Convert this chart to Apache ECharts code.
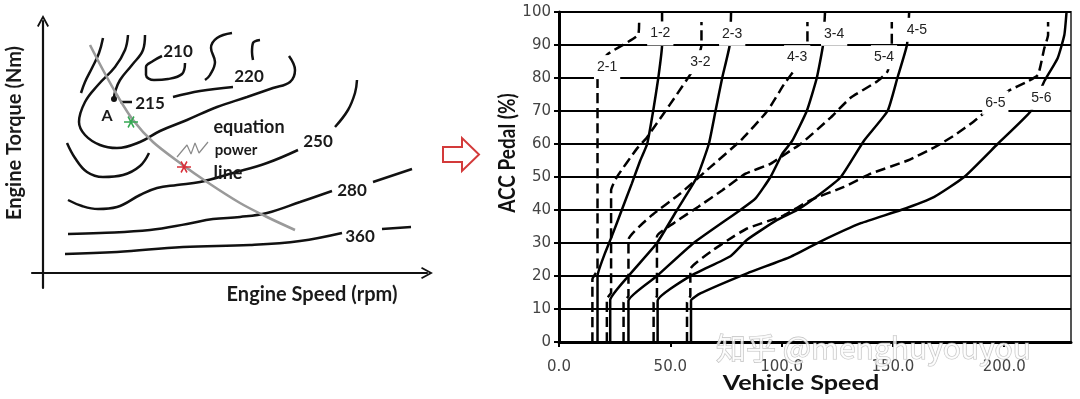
<!DOCTYPE html>
<html>
<head>
<meta charset="utf-8">
<title>Engine map and shift schedule</title>
<script src="https://cdn.jsdelivr.net/npm/echarts@6/dist/echarts.min.js"></script>
<style>
  html, body { margin: 0; padding: 0; background: #fff; }
  #chart { width: 1080px; height: 399px; }
</style>
</head>
<body>
<div id="chart"></div>
<script>
// ---------- left: engine map (relative speed, relative torque) ----------
var c1 = [[60,235],[56,220],[49,205],[42,191],[38,180]];
var c220 = [[85,238],[82,223],[72,206],[55,188],[42,171],[36,151],[42,138],[57,128],[74,125],[97,131],[117,142],[144,153],[174,166],[204,176],[230,185],[247,191],[252,203],[246,217]];
var c215 = [[102,238],[100,223],[89,208],[77,193],[72,181],[71,174]];
var c215dash = [[77,171],[89,171]];
var c215b = [[130,176],[157,182],[190,186]];
var cS = [[189,240],[174,235],[168,225],[172,211],[167,198],[162,193]];
var cHook = [[217,233],[210,230],[209,221],[210,213]];
var c210 = [[142,210],[139,199],[125,194],[111,193],[103,198],[103,206],[110,212],[119,217]];
var cU = [[24,130],[32,115],[44,101],[60,96],[80,98],[97,107],[106,120]];
var cArc = [[292,146],[305,163],[312,180],[314,193]];
var c250 = [[25,73],[39,67],[55,64],[74,66],[97,78],[114,85],[134,88],[157,91],[190,100],[224,110],[255,123]];
var c280 = [[25,39],[57,40],[107,43],[144,49],[170,54],[197,56],[224,60],[257,71],[289,82]];
var c280b = [[330,91],[369,104]];
var c360 = [[22,19],[74,21],[140,26],[207,28],[257,32],[299,40]];
var c360b = [[339,44],[368,46]];
var powerLine = [[47,228],[60,203],[74,178],[90,153],[110,131],[137,110],[164,91],[197,70],[224,56],[252,43]];
var squiggle = [[134,116],[144,128],[148,119],[152,130],[156,120],[165,131]];
var pointA = [[71,174]];
var greenMark = [[88,151]];
var redMark = [[141,106]];
var mapLabels = ['A','215','210','220','equation','power','line','250','280','360'];
var mapLabelAt = [[64,157],[107,169],[135,221],[206,196],[206,146],[193,123],[185,100],[275,131],[309,82],[317,36]];
var mapLabelSize = [16,17,17,17,18,15,18,17,17,17];

// ---------- right: shift schedule [vehicle speed, ACC pedal %] ----------
var up12 = [[17.3,0],[17.3,20],[20.7,27],[23.7,32],[28.2,40],[32.7,48],[36.5,55],[39.6,60],[42.3,70],[44.6,80],[46.3,90],[46.3,100]];
var up23 = [[23,0],[23,12.7],[31.2,20],[44,30],[53,40],[62,50],[67.3,60],[70.3,70],[73.3,80],[76.7,90],[77.3,100]];
var up34 = [[31.2,0],[31.2,12.5],[44,20],[60.5,30],[81.5,40],[88.3,43.5],[95,50],[100.3,57],[104.8,61],[111.3,70],[115.8,80],[118.6,90],[119.5,100]];
var up45 = [[44.3,0],[44.3,12.5],[59,20],[77,26],[84.5,31],[98,37],[107,40],[117.6,45],[126.6,50],[137,61],[147.6,70],[152,80],[156.3,90],[157.3,100]];
var up56 = [[59.3,0],[59.3,12.5],[63.5,14.7],[84.5,20.8],[104,25.8],[117.6,30.5],[135.6,36],[153.6,40],[168.6,44],[182,50],[197,60],[212,70],[218,79],[224,86],[227,93],[228,100]];
var down21 = [[15,0],[15,19],[17.3,22],[17.3,81],[21.5,87],[35.5,93],[36,97]];
var down32 = [[21.5,0],[21.5,13],[23.4,15],[23.4,46],[26,50],[35,58.6],[39.5,62],[59.8,82],[64,90],[64,97]];
var down43 = [[29,0],[29,12],[31.2,14],[31.2,31],[41,38],[54.5,45],[68,53],[81.5,61],[93.6,70],[101,78],[106.3,83],[111.6,90],[111.6,97]];
var down54 = [[42.5,0],[42.5,12],[44,14],[44,32],[51.5,36],[62.6,41],[73.4,46],[83.8,51],[95,54],[104,58],[108.6,60],[122,68],[131,74],[143,79],[147.6,82],[149.5,90],[149.5,97]];
var down65 = [[57.5,0],[57.5,12],[59,14],[59,22],[69.5,28],[78.5,32],[84.5,34.4],[101,38.4],[113,43],[128,47],[140,51],[156.6,55],[168.6,59],[177.6,62.6],[186.6,67],[195.5,72],[201.7,76],[210.7,79],[215.2,81],[218,89],[219.7,93],[219.7,97]];
var shiftNames = ['1-2','2-3','3-4','4-5','2-1','3-2','4-3','5-4','6-5','5-6'];
var shiftLabelAt = [[45.5,93.5],[77.8,93.4],[123.6,93.4],[160.8,94.6],[21.6,83.3],[63.5,84.8],[107,86.3],[146,86.3],[196,72.5],[216.7,74]];
var speedTicks = [0,50,100,150,200];

var chevron = 'path://M0,11 L6,0 L12,11 L10.4,11.9 L6,3.6 L1.6,11.9 Z';
var starMark = 'path://M0,5.2 L14,5.2 L14,6.8 L0,6.8 Z M3.4,1 L4.7,0 L10.6,11 L9.3,12 Z M9.3,0 L10.6,1 L4.7,12 L3.4,11 Z';

function contour(data, smooth) {
  return {
    type: 'line', xAxisIndex: 0, yAxisIndex: 0, data: data,
    symbol: 'none', smooth: smooth === undefined ? 0.4 : smooth,
    lineStyle: { color: '#111', width: 2.5 }, silent: true
  };
}

function shiftLine(data, dashed) {
  return {
    type: 'line', xAxisIndex: 1, yAxisIndex: 1, data: data,
    symbol: 'none', z: 3, silent: true, smooth: 0.15,
    lineStyle: { color: '#000', width: 2.5, type: dashed ? [10, 5] : 'solid' }
  };
}

var chart = echarts.init(document.getElementById('chart'), null, { renderer: 'canvas' });

var series = [
  contour(c1), contour(c220), contour(c215), contour(c215dash, 0), contour(c215b),
  contour(cS), contour(cHook), contour(c210), contour(cU), contour(cArc),
  contour(c250), contour(c280), contour(c280b, 0), contour(c360), contour(c360b, 0),
  {
    type: 'line', xAxisIndex: 0, yAxisIndex: 0, data: powerLine, symbol: 'none', smooth: 0.3,
    lineStyle: { color: '#9a9a9a', width: 2.6 }, z: 3, silent: true
  },
  {
    type: 'line', xAxisIndex: 0, yAxisIndex: 0, data: squiggle, symbol: 'none',
    lineStyle: { color: '#8a8a8a', width: 1.2 }, z: 3, silent: true
  },
  {
    type: 'scatter', xAxisIndex: 0, yAxisIndex: 0, data: pointA, symbol: 'circle', symbolSize: 6,
    itemStyle: { color: '#111', opacity: 1 }, z: 4, silent: true
  },
  {
    type: 'scatter', xAxisIndex: 0, yAxisIndex: 0, data: greenMark, symbol: starMark, symbolSize: [14, 12],
    itemStyle: { color: '#35a853', opacity: 1 }, z: 5, silent: true
  },
  {
    type: 'scatter', xAxisIndex: 0, yAxisIndex: 0, data: redMark, symbol: starMark, symbolSize: [14, 12],
    itemStyle: { color: '#d9303a', opacity: 1 }, z: 5, silent: true
  },
  {
    type: 'scatter', xAxisIndex: 0, yAxisIndex: 0, symbolSize: 0, z: 6, silent: true,
    itemStyle: { opacity: 1 },
    data: mapLabelAt.map(function (p, i) {
      return { value: p, name: mapLabels[i], label: { fontSize: mapLabelSize[i] } };
    }),
    label: {
      show: true, position: 'inside', formatter: '{b}', color: '#1a1a1a', opacity: 1,
      fontFamily: 'Lato', fontWeight: 'bold', textBorderWidth: 0
    }
  },
  shiftLine(up12, false), shiftLine(up23, false), shiftLine(up34, false),
  shiftLine(up45, false), shiftLine(up56, false),
  shiftLine(down21, true), shiftLine(down32, true), shiftLine(down43, true),
  shiftLine(down54, true), shiftLine(down65, true),
  {
    type: 'scatter', xAxisIndex: 1, yAxisIndex: 1, symbolSize: 0, z: 10, silent: true,
    itemStyle: { opacity: 1 },
    data: shiftLabelAt.map(function (p, i) { return { value: p, name: shiftNames[i] }; }),
    label: {
      show: true, position: 'inside', formatter: '{b}', opacity: 1,
      fontFamily: 'Liberation Sans', fontSize: 14, color: '#222', textBorderWidth: 0,
      backgroundColor: '#fff', padding: [5, 3]
    }
  }
];

var option = {
  animation: false,
  backgroundColor: '#fff',
  grid: [
    { left: 32, top: 21, width: 395, height: 267 },
    { left: 559, top: 12, width: 512, height: 330, show: true, borderColor: '#555', borderWidth: 2 }
  ],
  xAxis: [
    {
      gridIndex: 0, type: 'value', min: -11, max: 384,
      axisLine: { onZero: true, symbol: ['none', chevron], symbolSize: [12, 12],
        lineStyle: { color: '#111', width: 2.2 } },
      axisTick: { show: false }, axisLabel: { show: false }, splitLine: { show: false }
    },
    {
      gridIndex: 1, type: 'value', min: 0, max: 230, interval: 50,
      axisLine: { onZero: false, lineStyle: { color: '#000', width: 3 } },
      axisTick: { show: true, inside: false, length: 5, customValues: speedTicks, lineStyle: { color: '#000', width: 2 } },
      axisLabel: { customValues: speedTicks, margin: 18, fontFamily: 'DejaVu Sans', fontSize: 15, color: '#444',
        formatter: function (v) { return v.toFixed(1); } },
      splitLine: { show: false }
    }
  ],
  yAxis: [
    {
      gridIndex: 0, type: 'value', min: -15, max: 252,
      axisLine: { onZero: true, symbol: ['none', chevron], symbolSize: [12, 12],
        lineStyle: { color: '#111', width: 2.2 } },
      axisTick: { show: false }, axisLabel: { show: false }, splitLine: { show: false }
    },
    {
      gridIndex: 1, type: 'value', min: 0, max: 100, interval: 10,
      axisLine: { onZero: false, lineStyle: { color: '#000', width: 3 } },
      axisTick: { show: true, inside: false, length: 5, lineStyle: { color: '#000', width: 2 } },
      axisLabel: { margin: 8, fontFamily: 'DejaVu Sans', fontSize: 15, color: '#444' },
      splitLine: { show: true, lineStyle: { color: '#000', width: 2 } }
    }
  ],
  graphic: [
    {
      type: 'text', x: 312, y: 295, z: 20,
      style: { text: 'Engine Speed (rpm)', font: 'bold 20px Lato', fill: '#1a1a1a', align: 'center', verticalAlign: 'middle' }
    },
    {
      type: 'text', x: 15, y: 133, rotation: Math.PI / 2, z: 20,
      style: { text: 'Engine Torque (Nm)', font: 'bold 20px Lato', fill: '#1a1a1a', align: 'center', verticalAlign: 'middle' }
    },
    {
      type: 'text', x: 801, y: 383, scaleX: 1.2, z: 20,
      style: { text: 'Vehicle Speed', font: 'bold 21px Lato', fill: '#111', align: 'center', verticalAlign: 'middle' }
    },
    {
      type: 'text', x: 508, y: 153, rotation: Math.PI / 2, scaleY: 1.15, z: 20,
      style: { text: 'ACC Pedal (%)', font: 'bold 19px Lato', fill: '#111', align: 'center', verticalAlign: 'middle' }
    },
    {
      type: 'polygon', z: 20,
      shape: { points: [[443, 147], [462, 147], [462, 138], [479, 154.5], [462, 171], [462, 162], [443, 162]] },
      style: { fill: '#fff', stroke: '#d33a3a', lineWidth: 2 }
    },
    {
      type: 'text', x: 716, y: 333, z: 30,
      style: { text: '知乎 @menghuyouyou', font: '30px "Noto Sans CJK SC"', fill: 'rgba(255,255,255,0.8)',
        stroke: 'rgba(150,150,150,0.6)', lineWidth: 1.2 }
    }
  ],
  series: series
};

chart.setOption(option);
</script>
</body>
</html>
